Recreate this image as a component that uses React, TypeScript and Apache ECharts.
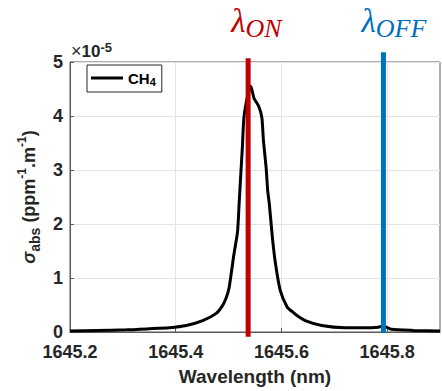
import React, { useEffect, useRef } from "react";
import * as echarts from "echarts";

const wavelength = [1645.200, 1645.250, 1645.307, 1645.350, 1645.388, 1645.420, 1645.451, 1645.476, 1645.488, 1645.495, 1645.501, 1645.510, 1645.517, 1645.520, 1645.523, 1645.526, 1645.529, 1645.537, 1645.542, 1645.548, 1645.557, 1645.563, 1645.566, 1645.571, 1645.574, 1645.577, 1645.583, 1645.589, 1645.598, 1645.611, 1645.620, 1645.630, 1645.645, 1645.676, 1645.720, 1645.757, 1645.783, 1645.793, 1645.808, 1645.850, 1645.900];
const sigma = [0.02, 0.03, 0.04, 0.06, 0.08, 0.12, 0.21, 0.34, 0.48, 0.62, 0.82, 1.43, 1.86, 2.38, 2.9, 3.4, 3.97, 4.42, 4.55, 4.33, 4.18, 3.97, 3.54, 3.05, 2.62, 2.38, 1.74, 1.25, 0.76, 0.46, 0.38, 0.30, 0.21, 0.12, 0.08, 0.08, 0.09, 0.11, 0.05, 0.03, 0.02];

const xTicks = [1645.2, 1645.4, 1645.6, 1645.8];
const yTicks = [0, 1, 2, 3, 4, 5];

const lambdaOn = 1645.537;
const lambdaOff = 1645.793;
const onLineSpan = [-0.09, 5.07];
const offLineSpan = [-0.02, 5.18];

const seriesName = "CH4";
const onLabel = "ON";
const offLabel = "OFF";

const FONT = "'Liberation Sans', Arial, Helvetica, sans-serif";
const SERIF = "'Liberation Serif', 'DejaVu Serif', serif";
const TXT = "#262626";
const RED = "#C00000";
const BLUE = "#0070C0";

export default function App() {
  const ref = useRef<HTMLDivElement>(null);

  useEffect(() => {
    if (!ref.current) return;
    const chart = echarts.init(ref.current, undefined, { renderer: "svg" });
    const option: any = {
      animation: false,
      backgroundColor: "#ffffff",
      grid: {
        left: 70,
        right: 2,
        top: 62,
        bottom: 56,
        show: true,
        borderColor: "#5a5a5a",
        borderWidth: 1,
        containLabel: false,
      },
      legend: {
        data: [{ name: seriesName, icon: "rect" }],
        left: 87,
        top: 65,
        orient: "vertical",
        padding: [5, 6, 5, 4],
        itemWidth: 32,
        itemHeight: 3,
        borderColor: TXT,
        borderWidth: 1,
        backgroundColor: "#ffffff",
        formatter: () => "{a|CH}{b|4}",
        textStyle: {
          color: "#000",
          rich: {
            a: { fontFamily: FONT, fontWeight: "bold", fontSize: 15, color: "#000", lineHeight: 18, verticalAlign: "middle" },
            b: { fontFamily: FONT, fontWeight: "bold", fontSize: 11, color: "#000", lineHeight: 18, verticalAlign: "bottom", padding: [6, 0, 0, 0] },
          },
        },
      },
      xAxis: {
        type: "value",
        min: 1645.2,
        max: 1645.9,
        interval: 0.2,
        name: "Wavelength (nm)",
        nameLocation: "middle",
        nameGap: 35,
        nameTextStyle: { fontFamily: FONT, fontWeight: "bold", fontSize: 19, color: TXT },
        axisLine: { show: true, lineStyle: { color: "#5a5a5a", width: 1 } },
        axisTick: { show: true, inside: true, length: 4, lineStyle: { color: "#5a5a5a" }, customValues: xTicks },
        axisLabel: {
          customValues: xTicks,
          margin: 11,
          fontFamily: FONT,
          fontWeight: "bold",
          fontSize: 18,
          color: TXT,
          formatter: (v: number) => v.toFixed(1),
        },
        splitLine: { show: true, lineStyle: { color: "#e3e3e3", width: 1 } },
      },
      yAxis: {
        type: "value",
        min: 0,
        max: 5,
        interval: 1,
        name: "{s|σ}{sub|abs} (ppm{sup|-1}.m{sup|-1})",
        nameLocation: "middle",
        nameRotate: 90,
        nameGap: 28,
        nameTextStyle: {
          fontFamily: FONT,
          fontWeight: "bold",
          fontSize: 18,
          color: TXT,
          rich: {
            s: { fontFamily: FONT, fontSize: 18, fontStyle: "italic", color: TXT, lineHeight: 26, verticalAlign: "middle" },
            sub: { fontFamily: FONT, fontWeight: "bold", fontSize: 14, color: TXT, lineHeight: 26, verticalAlign: "bottom" },
            sup: { fontFamily: FONT, fontWeight: "bold", fontSize: 12, color: TXT, lineHeight: 26, verticalAlign: "top" },
          },
        },
        axisLine: { show: true, lineStyle: { color: "#5a5a5a", width: 1 } },
        axisTick: { show: true, inside: true, length: 4, lineStyle: { color: "#5a5a5a" }, customValues: yTicks },
        axisLabel: {
          customValues: yTicks,
          margin: 7,
          fontFamily: FONT,
          fontWeight: "bold",
          fontSize: 18,
          color: TXT,
        },
        splitLine: { show: true, lineStyle: { color: "#e3e3e3", width: 1 } },
      },
      series: [
        {
          name: seriesName,
          type: "line",
          data: wavelength.map((w, i) => [w, sigma[i]]),
          symbol: "none",
          smooth: 0.2,
          lineStyle: { color: "#000000", width: 3 },
          itemStyle: { color: "#000000" },
          z: 3,
        },
        {
          name: "on",
          type: "line",
          data: onLineSpan.map((v) => [lambdaOn, v]),
          symbol: "none",
          clip: false,
          lineStyle: { color: RED, width: 5 },
          itemStyle: { color: RED },
          z: 4,
        },
        {
          name: "off",
          type: "line",
          data: offLineSpan.map((v) => [lambdaOff, v]),
          symbol: "none",
          clip: false,
          lineStyle: { color: BLUE, width: 5 },
          itemStyle: { color: BLUE },
          z: 4,
        },
      ],
    };
    chart.setOption(option);

    const onX = chart.convertToPixel({ xAxisIndex: 0 }, lambdaOn) as number;
    const offX = chart.convertToPixel({ xAxisIndex: 0 }, lambdaOff) as number;
    const mkLabel = (x: number, sub: string, color: string) => ({
      type: "text",
      left: x,
      top: 4,
      style: {
        text: "{l|λ}{s|" + sub + "}",
        fill: color,
        rich: {
          l: { fontFamily: SERIF, fontStyle: "italic", fontSize: 33, fill: color, lineHeight: 38, verticalAlign: "bottom" },
          s: { fontFamily: SERIF, fontStyle: "italic", fontSize: 26, fill: color, lineHeight: 38, verticalAlign: "bottom", padding: [0, 0, -4, 0] },
        },
      },
    });
    chart.setOption({
      graphic: [
        mkLabel(onX - 17, onLabel, RED),
        mkLabel(offX - 22, offLabel, BLUE),
        {
          type: "text",
          left: 71,
          top: 41,
          style: {
            text: "{x|×}{n|10}{e|-5}",
            rich: {
              x: { fontFamily: FONT, fontSize: 18, fill: TXT, lineHeight: 19, verticalAlign: "bottom" },
              n: { fontFamily: FONT, fontWeight: "bold", fontSize: 17, fill: TXT, lineHeight: 19, verticalAlign: "bottom" },
              e: { fontFamily: FONT, fontWeight: "bold", fontSize: 13, fill: TXT, lineHeight: 19, verticalAlign: "top" },
            },
          },
        },
      ],
    });

    return () => chart.dispose();
  }, []);

  return (
    <div style={{ position: "fixed", left: 0, top: 0, width: 442, height: 391, background: "#fff" }}>
      <div ref={ref} style={{ width: 442, height: 391 }} />
    </div>
  );
}
